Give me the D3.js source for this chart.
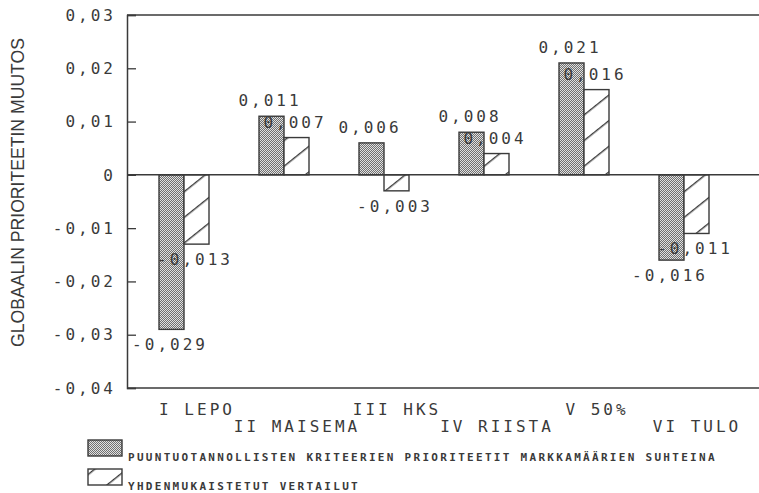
<!DOCTYPE html>
<html><head><meta charset="utf-8">
<script src="https://cdn.jsdelivr.net/npm/d3@7/dist/d3.min.js"></script>
<style>
html,body{margin:0;padding:0;background:#fff;}
svg{display:block;}
</style></head>
<body>
<svg id="chart" width="759" height="493"></svg>
<script>
const categories = ["I LEPO","II MAISEMA","III HKS","IV RIISTA","V 50%","VI TULO"];
const seriesNames = [
  "PUUNTUOTANNOLLISTEN KRITEERIEN PRIORITEETIT MARKKAMÄÄRIEN SUHTEINA",
  "YHDENMUKAISTETUT VERTAILUT"
];
const seriesA = [-0.029, 0.011, 0.006, 0.008, 0.021, -0.016];
const seriesB = [-0.013, 0.007, -0.003, 0.004, 0.016, -0.011];
const yTicks = [-0.04,-0.03,-0.02,-0.01,0,0.01,0.02,0.03];
const yTitle = "GLOBAALIN PRIORITEETIN MUUTOS";

const svg = d3.select("#chart");
const ink = "#3a3a3a";
const mono = "'DejaVu Sans Mono', monospace";

const locale = d3.formatLocale({decimal:",", thousands:" ", grouping:[3], currency:["",""], minus:"-"});
const f3 = locale.format(".3f"), f2 = locale.format(".2f");

const y = d3.scaleLinear().domain([-0.04, 0.03]).range([388, 15]);
const x = d3.scaleBand().domain(categories).range([127, 741]).paddingInner(0.5).paddingOuter(0.32);
const xs = d3.scaleBand().domain([0,1]).range([0, x.bandwidth()]);

// patterns
const defs = svg.append("defs");
const dots = defs.append("pattern").attr("id","dots").attr("patternUnits","userSpaceOnUse")
  .attr("width",2).attr("height",2);
dots.append("rect").attr("width",2).attr("height",2).attr("fill","#e0e0e0");
dots.append("rect").attr("x",0).attr("y",0).attr("width",1).attr("height",1).attr("fill","#707070");
dots.append("rect").attr("x",1).attr("y",1).attr("width",1).attr("height",1).attr("fill","#707070");

const hatch = defs.append("pattern").attr("id","hatch").attr("patternUnits","userSpaceOnUse")
  .attr("width",10).attr("height",20).attr("patternTransform","translate(0,6) rotate(-38.7)");
hatch.append("rect").attr("width",10).attr("height",20).attr("fill","#fff");
hatch.append("line").attr("x1",0).attr("x2",10).attr("y1",0.7).attr("y2",0.7)
  .attr("stroke",ink).attr("stroke-width",1.4);

const fills = ["url(#dots)","url(#hatch)"];

// frame lines
const right = 759;
svg.append("line").attr("x1",127).attr("x2",right).attr("y1",y(0.03)).attr("y2",y(0.03)).attr("stroke",ink).attr("stroke-width",1.5);
svg.append("line").attr("x1",127).attr("x2",right).attr("y1",y(-0.04)).attr("y2",y(-0.04)).attr("stroke",ink).attr("stroke-width",1.5);

// y axis
const yAxis = d3.axisRight(y).tickValues(yTicks).tickSize(9).tickFormat("");
const gy = svg.append("g").attr("transform","translate(127,0)").call(yAxis);
gy.select(".domain").attr("stroke",ink).attr("stroke-width",1.5);
gy.selectAll(".tick line").attr("stroke",ink).attr("stroke-width",1.3);

svg.append("g").selectAll("text").data(yTicks).join("text")
  .attr("x",116).attr("y",d=>y(d)).attr("dy","0.36em")
  .attr("text-anchor","end")
  .style("font-family",mono).style("font-size","16px").style("letter-spacing","3px")
  .attr("fill",ink)
  .text(d=> d===0 ? "0" : f2(d));

svg.append("text")
  .attr("transform",`translate(24,${(38+347)/2}) rotate(-90)`)
  .attr("text-anchor","middle")
  .attr("textLength",309).attr("lengthAdjust","spacingAndGlyphs")
  .style("font-family","'Liberation Sans', Arial, sans-serif").style("font-size","19px")
  .attr("fill",ink).text(yTitle);

// bars
const rows = categories.map((c,i)=>({c, vals:[seriesA[i], seriesB[i]]}));
const g = svg.append("g").selectAll("g").data(rows).join("g")
  .attr("transform",d=>`translate(${x(d.c)},0)`);

g.selectAll("rect").data(d=>d.vals.map((v,k)=>({v,k}))).join("rect")
  .attr("x",d=>xs(d.k)).attr("width",xs.bandwidth())
  .attr("y",d=>y(Math.max(0,d.v))).attr("height",d=>Math.abs(y(d.v)-y(0)))
  .attr("fill",d=>fills[d.k]).attr("stroke",ink).attr("stroke-width",1.4);

// zero line
svg.append("line").attr("x1",127).attr("x2",right).attr("y1",y(0)).attr("y2",y(0)).attr("stroke",ink).attr("stroke-width",1.5);

// value labels
g.selectAll("text.val").data(d=>d.vals.map((v,k)=>({v,k}))).join("text").attr("class","val")
  .attr("x",d=>xs(d.k)+xs.bandwidth()/2 - 1.5)
  .attr("y",d=> d.v>=0 ? y(d.v)-10 : y(d.v)+21)
  .attr("text-anchor","middle")
  .style("font-family",mono).style("font-size","16px").style("letter-spacing","3px")
  .attr("fill",ink)
  .text(d=>f3(d.v));

// category labels
svg.append("g").selectAll("text").data(categories).join("text")
  .attr("x",d=>x(d)+x.bandwidth()/2+13)
  .attr("y",(d,i)=> i%2===0 ? 415 : 432)
  .attr("text-anchor","middle")
  .style("font-family",mono).style("font-size","16px").style("letter-spacing","3px")
  .attr("fill",ink)
  .text(d=>d);

// legend
const lg = svg.append("g");
seriesNames.forEach((name,k)=>{
  const top = k===0 ? 440 : 469;
  lg.append("rect").attr("x",88).attr("y",top).attr("width",34).attr("height",16)
    .attr("fill",fills[k]).attr("stroke",ink).attr("stroke-width",1.4);
  lg.append("text").attr("x",128).attr("y",top+21)
    .style("font-family",mono).style("font-size","11px").style("letter-spacing","2.3px")
    .style("font-weight","bold")
    .attr("fill",ink).text(name);
});
</script>
</body></html>
